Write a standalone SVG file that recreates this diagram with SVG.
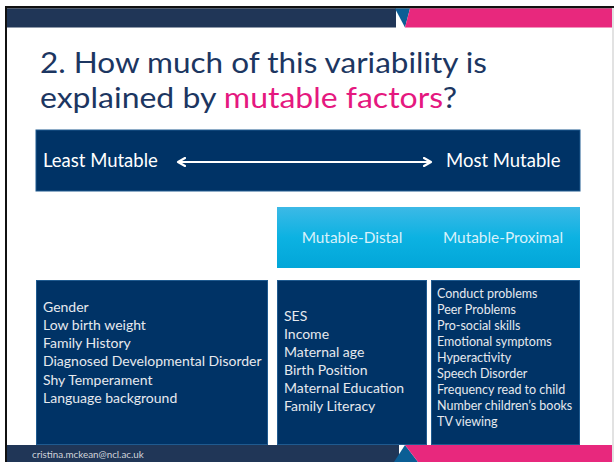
<svg xmlns="http://www.w3.org/2000/svg" width="614" height="462" viewBox="0 0 614 462">
  <defs>
    <linearGradient id="cyanFill" x1="0" y1="0" x2="0" y2="1">
      <stop offset="0" stop-color="#3cb9e6"/>
      <stop offset="0.5" stop-color="#0cb2e2"/>
      <stop offset="1" stop-color="#02a6d8"/>
    </linearGradient>
    <marker id="head" viewBox="0 0 10 10" refX="7" refY="5" markerWidth="5" markerHeight="5" orient="auto-start-reverse" markerUnits="strokeWidth">
      <path d="M1,1 L8,5 L1,9" fill="none" stroke="#ffffff" stroke-width="2.2" stroke-linecap="round" stroke-linejoin="round"/>
    </marker>
    <style>
      .title { font-family: Lato, "Liberation Sans", sans-serif; font-size: 28.5px; fill: #1c3661; }
      .pink { fill: #e5187f; }
      .navy { fill: #003366; stroke: #1f5a8f; stroke-width: 1; }
      .scale { font-family: Lato, "Liberation Sans", sans-serif; font-size: 18.5px; fill: #ffffff; }
      .band { font-family: Lato, "Liberation Sans", sans-serif; font-size: 15.4px; fill: #d8f1fb; }
      .item { font-family: Lato, "Liberation Sans", sans-serif; font-size: 14px; fill: #e6e9ee; }
      .small { font-family: Lato, "Liberation Sans", sans-serif; font-size: 12.5px; fill: #e6e9ee; }
      .foot { font-family: Lato, "Liberation Sans", sans-serif; font-size: 9.8px; fill: #d0d4da; }
    </style>
  </defs>

  <!-- slide background and frame -->
  <rect x="0" y="0" width="614" height="462" fill="#ffffff"/>
  <rect x="5" y="6" width="609" height="2.5" fill="#111111"/>
  <rect x="5" y="6" width="2" height="456" fill="#111111"/>
  <rect x="612" y="8" width="2" height="454" fill="#e2e2e2"/>

  <!-- header strip -->
  <g id="header">
    <rect x="7" y="8.5" width="389" height="19" fill="#203657"/>
    <polygon points="395,8.5 410,8.5 405,27.5" fill="#0b5e95"/>
    <polygon points="410,8.5 612,8.5 612,27.5 405,27.5" fill="#e8287d"/>
  </g>

  <!-- title -->
  <g id="title">
    <text class="title" x="40" y="73" textLength="447" lengthAdjust="spacingAndGlyphs">2. How much of this variability is</text>
    <text class="title" x="40" y="107.5" textLength="417" lengthAdjust="spacingAndGlyphs">explained by <tspan class="pink">mutable factors</tspan>?</text>
  </g>

  <!-- mutability scale bar -->
  <g id="scale">
    <rect class="navy" x="36" y="130" width="544" height="61"/>
    <text class="scale" x="43" y="167">Least Mutable</text>
    <text class="scale" x="446" y="167">Most Mutable</text>
  </g>

  <g id="connectors">
    <line x1="179" y1="162" x2="430" y2="162" stroke="#ffffff" stroke-width="2" marker-start="url(#head)" marker-end="url(#head)"/>
  </g>

  <!-- mutable heading band -->
  <g id="mutable-band">
    <rect x="277" y="207" width="303" height="61" fill="url(#cyanFill)"/>
    <text class="band" x="352" y="243" text-anchor="middle">Mutable-Distal</text>
    <text class="band" x="503" y="243" text-anchor="middle">Mutable-Proximal</text>
  </g>

  <!-- least mutable factors -->
  <g id="fixed-factors">
    <rect class="navy" x="36.5" y="280.5" width="231" height="164"/>
    <text class="item" x="43" y="312">Gender</text>
    <text class="item" x="43" y="330">Low birth weight</text>
    <text class="item" x="43" y="348">Family History</text>
    <text class="item" x="43" y="366">Diagnosed Developmental Disorder</text>
    <text class="item" x="43" y="385">Shy Temperament</text>
    <text class="item" x="43" y="403">Language background</text>
  </g>

  <!-- distal factors -->
  <g id="distal-factors">
    <rect class="navy" x="277.5" y="280.5" width="149" height="164"/>
    <text class="item" x="284" y="321">SES</text>
    <text class="item" x="284" y="339">Income</text>
    <text class="item" x="284" y="357">Maternal age</text>
    <text class="item" x="284" y="375">Birth Position</text>
    <text class="item" x="284" y="393">Maternal Education</text>
    <text class="item" x="284" y="411">Family Literacy</text>
  </g>

  <!-- proximal factors -->
  <g id="proximal-factors">
    <rect class="navy" x="431.5" y="280.5" width="148" height="164"/>
    <text class="small" x="437" y="298">Conduct problems</text>
    <text class="small" x="437" y="314">Peer Problems</text>
    <text class="small" x="437" y="330">Pro-social skills</text>
    <text class="small" x="437" y="346">Emotional symptoms</text>
    <text class="small" x="437" y="362">Hyperactivity</text>
    <text class="small" x="437" y="378">Speech Disorder</text>
    <text class="small" x="437" y="394">Frequency read to child</text>
    <text class="small" x="437" y="410">Number children’s books</text>
    <text class="small" x="437" y="426">TV viewing</text>
  </g>

  <!-- footer strip -->
  <g id="footer">
    <rect x="7" y="445" width="392" height="17" fill="#203657"/>
    <polygon points="394,462 405,445 418,462" fill="#0b5e95"/>
    <polygon points="405,445 612,445 612,462 418,462" fill="#e8287d"/>
    <text class="foot" x="32" y="458">cristina.mckean@ncl.ac.uk</text>
  </g>
</svg>
